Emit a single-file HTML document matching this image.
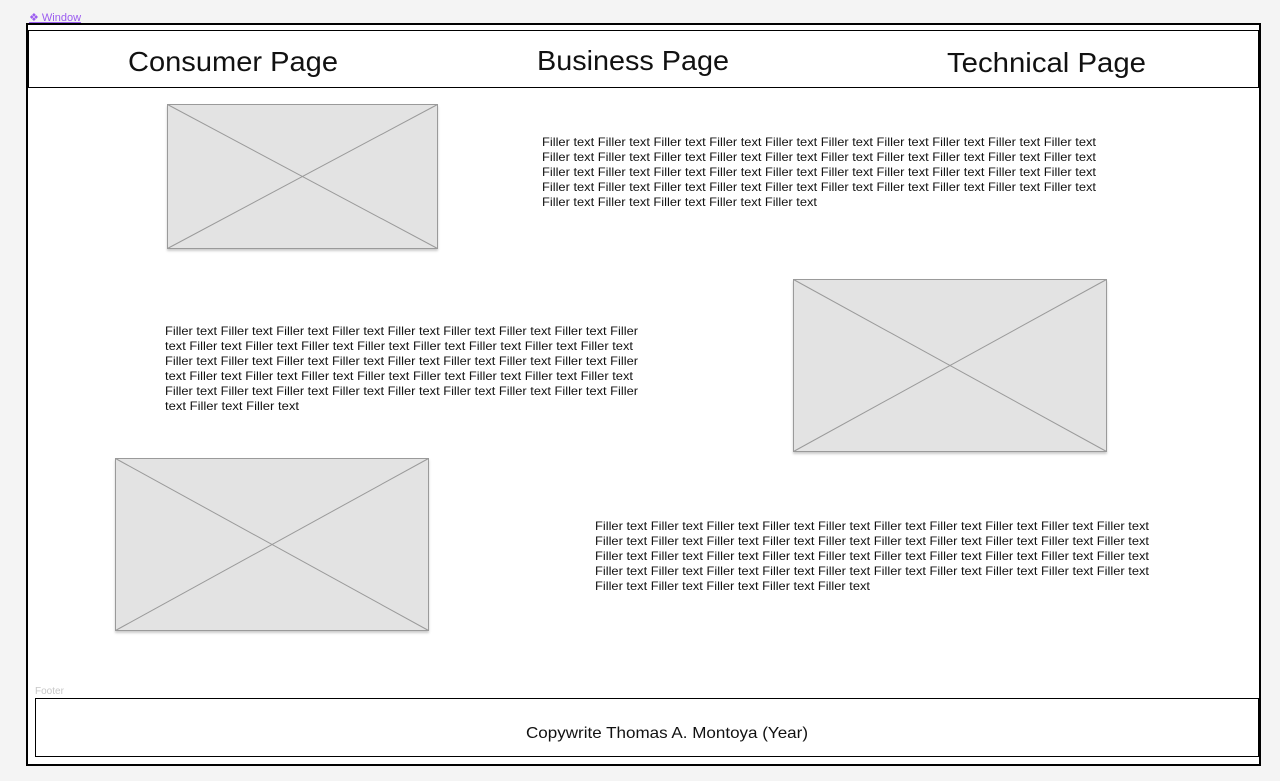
<!DOCTYPE html>
<html><head><meta charset="utf-8"><style>
html,body{margin:0;padding:0;background:#f4f4f4;}
svg{display:block;}
text{font-family:"Liberation Sans",sans-serif;fill:#111;}
.f{font-size:12px;}
</style></head><body>
<svg width="1280" height="781" xmlns="http://www.w3.org/2000/svg">
<rect x="0" y="0" width="1280" height="781" fill="#f4f4f4"/>
<text x="29" y="21" style="font-size:11px;fill:#9b5cf0;text-decoration:underline">❖ Window</text>
<rect x="27" y="24" width="1233" height="741" fill="#fff" stroke="#000" stroke-width="2"/>
<rect x="28.5" y="30.5" width="1230" height="57" fill="#fff" stroke="#000" stroke-width="1"/>
<text x="128" y="71" textLength="210" lengthAdjust="spacingAndGlyphs" style="font-size:28px">Consumer Page</text>
<text x="537" y="70" textLength="192" lengthAdjust="spacingAndGlyphs" style="font-size:28px">Business Page</text>
<text x="947" y="72" textLength="199" lengthAdjust="spacingAndGlyphs" style="font-size:28px">Technical Page</text>

<g stroke="#9a9a9a" stroke-width="1" fill="#e3e3e3">
<rect x="167.5" y="104.5" width="270" height="144" style="filter:drop-shadow(0 2px 1px rgba(0,0,0,.2))"/>
<line x1="167.5" y1="104.5" x2="437.5" y2="248.5"/><line x1="437.5" y1="104.5" x2="167.5" y2="248.5"/>
<rect x="793.5" y="279.5" width="313" height="172" style="filter:drop-shadow(0 2px 1px rgba(0,0,0,.2))"/>
<line x1="793.5" y1="279.5" x2="1106.5" y2="451.5"/><line x1="1106.5" y1="279.5" x2="793.5" y2="451.5"/>
<rect x="115.5" y="458.5" width="313" height="172" style="filter:drop-shadow(0 2px 1px rgba(0,0,0,.2))"/>
<line x1="115.5" y1="458.5" x2="428.5" y2="630.5"/><line x1="428.5" y1="458.5" x2="115.5" y2="630.5"/>
</g>

<g class="f">
<text x="542" y="146" textLength="554" lengthAdjust="spacingAndGlyphs">Filler text Filler text Filler text Filler text Filler text Filler text Filler text Filler text Filler text Filler text</text>
<text x="542" y="161" textLength="554" lengthAdjust="spacingAndGlyphs">Filler text Filler text Filler text Filler text Filler text Filler text Filler text Filler text Filler text Filler text</text>
<text x="542" y="176" textLength="554" lengthAdjust="spacingAndGlyphs">Filler text Filler text Filler text Filler text Filler text Filler text Filler text Filler text Filler text Filler text</text>
<text x="542" y="191" textLength="554" lengthAdjust="spacingAndGlyphs">Filler text Filler text Filler text Filler text Filler text Filler text Filler text Filler text Filler text Filler text</text>
<text x="542" y="206" textLength="275" lengthAdjust="spacingAndGlyphs">Filler text Filler text Filler text Filler text Filler text</text>

<text x="165" y="335" textLength="473" lengthAdjust="spacingAndGlyphs">Filler text Filler text Filler text Filler text Filler text Filler text Filler text Filler text Filler</text>
<text x="165" y="350" textLength="468" lengthAdjust="spacingAndGlyphs">text Filler text Filler text Filler text Filler text Filler text Filler text Filler text Filler text</text>
<text x="165" y="365" textLength="473" lengthAdjust="spacingAndGlyphs">Filler text Filler text Filler text Filler text Filler text Filler text Filler text Filler text Filler</text>
<text x="165" y="380" textLength="468" lengthAdjust="spacingAndGlyphs">text Filler text Filler text Filler text Filler text Filler text Filler text Filler text Filler text</text>
<text x="165" y="395" textLength="473" lengthAdjust="spacingAndGlyphs">Filler text Filler text Filler text Filler text Filler text Filler text Filler text Filler text Filler</text>
<text x="165" y="410" textLength="134" lengthAdjust="spacingAndGlyphs">text Filler text Filler text</text>

<text x="595" y="530" textLength="554" lengthAdjust="spacingAndGlyphs">Filler text Filler text Filler text Filler text Filler text Filler text Filler text Filler text Filler text Filler text</text>
<text x="595" y="545" textLength="554" lengthAdjust="spacingAndGlyphs">Filler text Filler text Filler text Filler text Filler text Filler text Filler text Filler text Filler text Filler text</text>
<text x="595" y="560" textLength="554" lengthAdjust="spacingAndGlyphs">Filler text Filler text Filler text Filler text Filler text Filler text Filler text Filler text Filler text Filler text</text>
<text x="595" y="575" textLength="554" lengthAdjust="spacingAndGlyphs">Filler text Filler text Filler text Filler text Filler text Filler text Filler text Filler text Filler text Filler text</text>
<text x="595" y="590" textLength="275" lengthAdjust="spacingAndGlyphs">Filler text Filler text Filler text Filler text Filler text</text>
</g>

<text x="35" y="694" style="font-size:10px;fill:#c8c8c8">Footer</text>
<rect x="35.5" y="698.5" width="1223" height="58" fill="#fff" stroke="#000" stroke-width="1"/>
<text x="526" y="738" textLength="282" lengthAdjust="spacingAndGlyphs" style="font-size:16px">Copywrite Thomas A. Montoya (Year)</text>
</svg>
</body></html>
